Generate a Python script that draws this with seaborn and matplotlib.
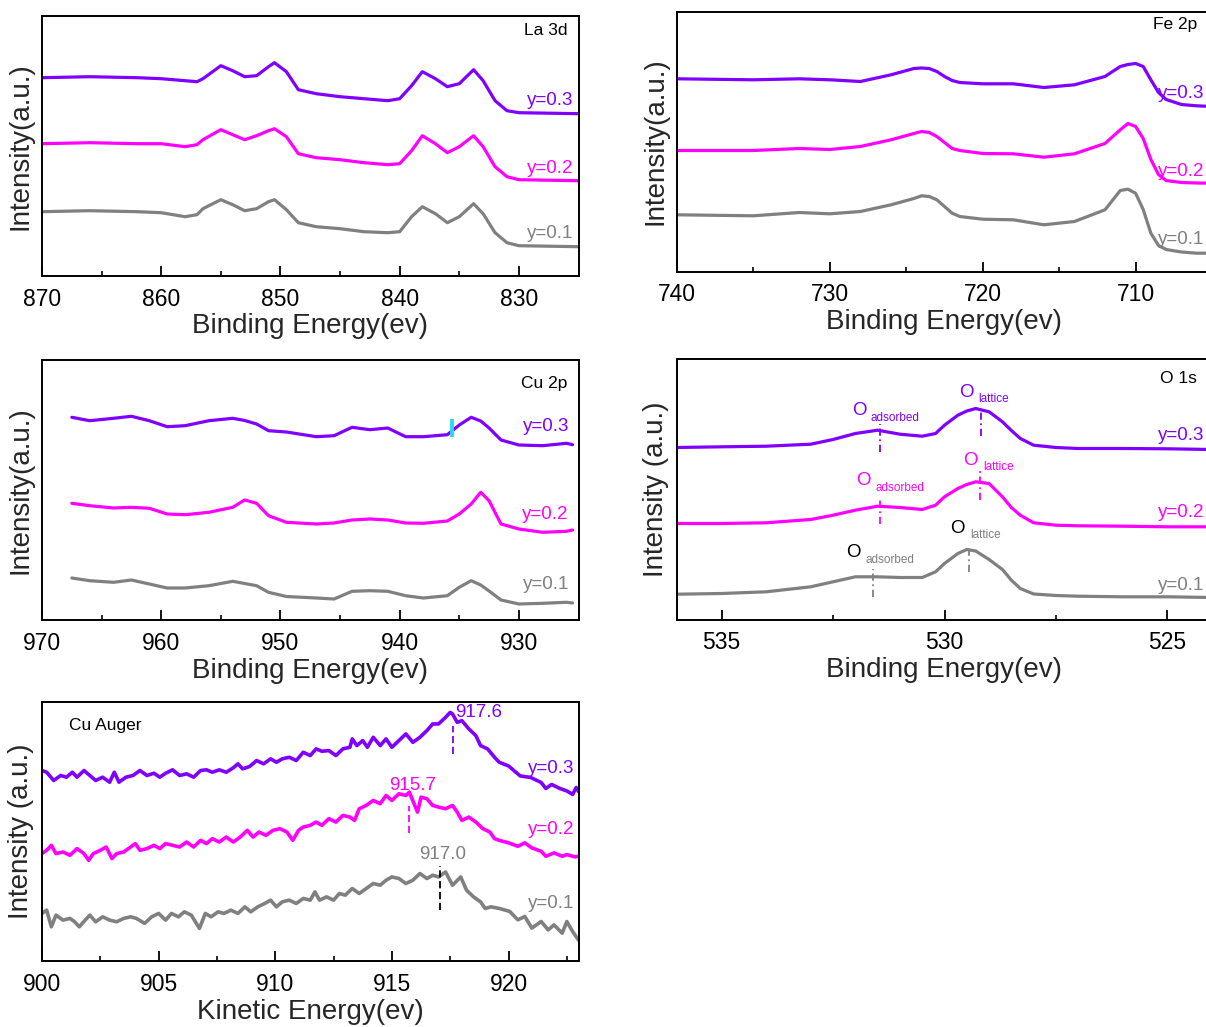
import numpy as np
import pandas as pd
import matplotlib
matplotlib.use("Agg")
import matplotlib.pyplot as plt
import seaborn as sns
from matplotlib.ticker import MultipleLocator

# ---------------- data (intensity in arbitrary units) ----------------
series_labels = ["y=0.3", "y=0.2", "y=0.1"]

# La 3d
la_x = [870, 866, 862, 860, 858, 857, 856.5, 855, 854, 853, 852, 851, 850.5, 849.5, 848.5, 847, 845, 843,
        841, 840, 839, 838.1, 837, 836, 835, 833.8, 833, 832, 831, 830, 825]
la_y03 = [198, 199, 198, 197, 195, 194, 197, 210, 205, 199, 200, 209, 213, 204, 186, 182, 179, 177,
          175, 177, 190, 204, 197, 189, 192, 206, 195, 175, 165, 163, 162]
la_y02 = [132, 133, 132, 132, 129, 131, 136, 146, 141, 136, 140, 145, 147, 139, 122, 118, 116, 113,
          111, 112, 125, 140, 132, 123, 129, 140, 129, 109, 99, 96, 95]
la_y01 = [64, 65, 64, 63, 59, 61, 67, 76, 71, 65, 67, 74, 76, 66, 53, 49, 47, 44,
          43, 44, 59, 69, 62, 53, 59, 72, 62, 43, 33, 30, 29]

# Fe 2p
fe_x = [740, 735, 732, 730, 728, 726, 724.5, 724, 723.5, 723, 722.5, 722, 721.5, 720, 718, 716, 714, 712,
        711, 710.5, 710, 709.5, 709, 708.5, 708, 707, 706, 705]
fe_y03 = [192.7, 191.7, 192.7, 191.7, 190, 196.7, 203, 203.5, 203, 200, 195, 191, 189, 187.7, 187.7, 184, 186.7, 195,
          205, 207, 208, 205, 191.7, 179, 172, 167, 165.7, 165]
fe_y02 = [121, 121, 123, 122, 125, 131.7, 138, 140, 139, 135, 129, 123, 121, 118, 117.7, 114.3, 117.7, 128,
          141.7, 148, 145, 133, 112, 97, 91, 89, 88.5, 88.3]
fe_y01 = [56.7, 55.7, 59, 57.7, 60, 66.7, 73, 75.7, 75, 71.7, 65, 58.3, 55, 52.3, 51.7, 46.7, 50, 61.7,
          81, 82.3, 78.3, 62, 38.3, 26, 22, 19.5, 18.3, 18.3]

# Cu 2p
cu_x = [967.5, 966, 964, 962.5, 961, 959.5, 958, 956, 954, 953, 952, 951, 949.5, 947, 945.5, 944, 942.5, 941,
        939.5, 938, 936, 935, 934, 933.2, 932.5, 931.5, 930, 928, 926, 925.5]
cu_y03 = [202.7, 199.3, 201.7, 203.7, 199.3, 193.3, 194.3, 199.3, 201.7, 199.5, 196, 189.3, 188, 183.3, 184.3, 192.7, 190.3, 192,
          183.3, 183.3, 185.3, 195, 202.7, 199, 192, 180, 175, 174.3, 176.7, 175.3]
cu_y02 = [116.7, 114.3, 112, 112.7, 111.7, 106, 105.3, 107.7, 112.7, 120, 116.7, 104.3, 97.7, 96, 97, 100, 101, 100,
          97, 96.7, 99, 106, 116, 127.7, 119.3, 96, 91, 87.7, 88.7, 90]
cu_y01 = [42, 39.3, 37.7, 40, 36, 32, 32, 34.3, 38.7, 36.5, 34.3, 27.7, 23.5, 22, 21, 28.7, 29.3, 28.7,
          24.3, 22, 24.3, 32.7, 39.3, 35, 29, 20, 16, 16.7, 17.7, 17]

# O 1s
o_x = [536, 535, 534, 533, 532.5, 532, 531.5, 531, 530.5, 530.2, 530, 529.7, 529.5, 529.3, 529, 528.7, 528.5,
       528.3, 528, 527.5, 527, 526, 525, 524]
o_y03 = [172, 172.7, 173.3, 175.3, 180, 186, 189.3, 185.3, 183.3, 186, 194.3, 204.3, 208.5, 211, 207.7, 197.7, 189,
         181, 174.3, 172, 171, 171, 170.7, 170]
o_y02 = [96, 96, 96.7, 100, 104.3, 109.3, 113.3, 112, 110, 114.3, 122.7, 131, 135, 137.7, 136, 122.7, 112,
         104.3, 96.7, 94.3, 93.7, 93.3, 92.7, 92.7]
o_y01 = [25.3, 26, 27.7, 32.7, 37.7, 42.7, 42.7, 42, 42, 47.7, 56, 66, 70, 68.5, 60, 50, 39.3,
         31, 25.5, 24, 23.3, 22.7, 22.7, 22]

# Cu Auger
au_x03 = [900.0, 900.2, 900.5, 900.8, 901.05, 901.3, 901.5, 901.8, 902.05, 902.3, 902.6, 902.9, 903.1, 903.3,
          903.6, 903.9, 904.2, 904.5, 904.8, 905.05, 905.3, 905.6, 905.9, 906.2, 906.5, 906.8, 907.05, 907.3,
          907.6, 907.9, 908.2, 908.4, 908.6, 908.9, 909.2, 909.5, 909.8, 910.05, 910.3, 910.6, 910.9, 911.2,
          911.5, 911.75, 912.0, 912.3, 912.6, 912.9, 913.2, 913.3, 913.5, 913.75, 913.95, 914.2, 914.5, 914.75,
          915.0, 915.3, 915.6, 915.9, 916.2, 916.5, 916.75, 917.0, 917.3, 917.5, 917.6, 917.8, 918.0, 918.3,
          918.6, 918.8, 919.1, 919.4, 919.6, 920.0, 920.5, 920.95, 921.4, 921.6, 921.85, 922.2, 922.5, 922.75,
          922.9, 923.0]
au_y03 = [191, 189.3, 181, 186, 184.3, 189.3, 184.3, 191, 186, 181, 184.3, 179.3, 189.3, 179.3,
          184.3, 186, 191, 186, 188.3, 184.3, 188.3, 191.7, 186, 187.7, 184.3, 191, 191.7, 189.3,
          191.7, 189.3, 193.7, 197.7, 192.7, 195, 201, 197.7, 202.7, 199.3, 202.7, 204.3, 201, 209.3,
          206, 212.7, 210.3, 211, 206, 212.7, 214.3, 222.7, 216, 221, 214.3, 224.3, 216, 222.7,
          214.3, 221, 227.7, 219.3, 224.3, 231, 237.7, 237.7, 244.3, 249.3, 247.7, 239.3, 241, 232.7,
          226, 216, 212.7, 204.3, 199.3, 195.6, 185.6, 184, 179, 173, 177, 173, 170.5, 167,
          174, 170]
au_x02 = [900.0, 900.2, 900.4, 900.6, 900.9, 901.2, 901.5, 901.8, 902.0, 902.2, 902.5, 902.75, 903.0, 903.2,
          903.5, 903.8, 904.0, 904.2, 904.5, 904.8, 905.05, 905.3, 905.6, 905.9, 906.2, 906.5, 906.8, 907.05,
          907.3, 907.6, 907.9, 908.2, 908.5, 908.8, 909.05, 909.3, 909.6, 909.9, 910.2, 910.5, 910.75, 911.0,
          911.2, 911.5, 911.75, 912.0, 912.3, 912.6, 912.9, 913.2, 913.4, 913.6, 913.9, 914.2, 914.5, 914.75,
          915.0, 915.3, 915.6, 915.75, 915.95, 916.1, 916.25, 916.5, 916.75, 917.0, 917.3, 917.6, 917.8, 918.0,
          918.3, 918.6, 918.9, 919.2, 919.4, 919.6, 920.0, 920.4, 920.7, 921.0, 921.4, 921.6, 921.95, 922.3,
          922.5, 922.85, 923.0]
au_y02 = [107.7, 111, 116, 107.7, 109.3, 106, 112.7, 107.7, 101, 107.7, 111, 114.3, 102.7, 107.7,
          109.3, 114.3, 117.7, 111, 112.7, 116, 112.7, 117.7, 116, 114.3, 119.3, 114.3, 121, 117.7,
          122.7, 119.3, 124.3, 119.3, 124.3, 131, 124.3, 129.3, 126, 131, 132.7, 129.3, 121, 131,
          134.3, 136, 139.3, 136, 142.7, 139.3, 146, 144.3, 141, 152.7, 156, 161, 157.7, 166,
          161, 167.7, 166, 169.3, 157.7, 149.3, 164.3, 162.7, 156, 154.3, 152.7, 156, 149.3, 141,
          144.3, 139.3, 132.7, 129.3, 122.7, 121, 118.5, 115, 118.5, 113.4, 110, 105, 108.4, 105,
          106.7, 104.4, 105]
au_x01 = [900.0, 900.2, 900.4, 900.6, 900.9, 901.2, 901.4, 901.6, 901.85, 902.05, 902.3, 902.6, 902.9, 903.2,
          903.5, 903.8, 904.05, 904.4, 904.7, 905.0, 905.3, 905.55, 905.85, 906.1, 906.4, 906.75, 907.0, 907.25,
          907.55, 907.8, 908.1, 908.4, 908.7, 908.95, 909.25, 909.55, 909.8, 910.05, 910.3, 910.6, 910.9, 911.2,
          911.5, 911.7, 911.9, 912.2, 912.5, 912.75, 913.0, 913.3, 913.6, 913.9, 914.2, 914.5, 914.75, 915.0,
          915.3, 915.6, 915.9, 916.2, 916.5, 916.75, 917.0, 917.3, 917.6, 917.95, 918.2, 918.5, 918.8, 919.0,
          919.25, 919.6, 920.05, 920.4, 920.7, 921.0, 921.4, 921.7, 921.95, 922.3, 922.5, 922.75, 923.0]
au_y01 = [47.7, 51, 34.3, 46, 41, 42.7, 39.3, 34.3, 41, 46, 39.3, 44.3, 41, 39.3,
          42.7, 44.3, 42.7, 37.7, 44.3, 47.7, 41, 47.7, 44.3, 49.3, 46, 32.7, 47.7, 44.3,
          49.3, 47.7, 51, 47.7, 54.3, 49.3, 54.3, 57.7, 61, 54.3, 59.3, 61, 57.7, 62.7,
          61, 69.3, 61, 64.3, 61, 67.7, 66, 72.7, 67.7, 72.7, 77.7, 76, 81, 84.3,
          82.7, 77.7, 81, 87.7, 82.7, 86, 84.3, 89.3, 76, 84.3, 71, 64.3, 59.3, 52.7,
          54.3, 52.7, 49.7, 41.3, 44.6, 33, 39.6, 31.2, 36.2, 27.9, 39.6, 29.5, 21]

# label heights of the "y=" tags
la_tag_y = [175.5, 107.3, 42.5]
fe_tag_y = [178, 100, 32.5]
cu_tag_y = [193.5, 105.5, 35.5]
o_tag_y = [184.3, 106.7, 34.3]
au_tag_y = [193.3, 132, 58]

# peak markers
au_peaks = [917.6, 915.7, 917.0]
au_peak_text = ["917.6", "915.7", "917.0"]

# ---------------- style ----------------
sns.set_theme(style="ticks")
plt.rcParams['font.family'] = ['Liberation Sans', 'DejaVu Sans']
plt.rcParams['axes.linewidth'] = 1.4
plt.rcParams['axes.edgecolor'] = 'black'
plt.rcParams['xtick.color'] = 'black'
plt.rcParams['text.color'] = 'black'

PURPLE = '#7F00FF'
MAGENTA = '#FF00FF'
GRAY = '#808080'
colors = [PURPLE, MAGENTA, GRAY]

W, H = 1206, 1027
fig = plt.figure(figsize=(W / 100, H / 100), dpi=100)


def make_ax(left_px, top_px, width_px, height_px):
    return fig.add_axes([left_px / W, 1 - (top_px + height_px) / H, width_px / W, height_px / H])


def style_ax(ax, xlim, major, minor, xlabel, ylabel):
    ax.set_xlim(*xlim)
    ax.set_ylim(0, 260)
    ax.set_yticks([])
    ax.xaxis.set_major_locator(MultipleLocator(major))
    ax.xaxis.set_minor_locator(MultipleLocator(minor))
    ax.tick_params(axis='x', which='major', direction='in', length=7, width=1.3,
                   labelsize=16.5, pad=8.5, top=False)
    ax.tick_params(axis='x', which='minor', direction='in', length=3.5, width=1.2, top=False)
    ax.set_xlabel(xlabel, fontsize=20, labelpad=2)
    ax.set_ylabel(ylabel, fontsize=20, labelpad=6)
    for s in ax.spines.values():
        s.set_visible(True)
        s.set_linewidth(1.4)
        s.set_color('black')
    ax.grid(False)


def draw(ax, xs, ys, color, lw=2.3):
    df = pd.DataFrame({"x": xs, "y": ys})
    sns.lineplot(data=df, x="x", y="y", ax=ax, color=color, linewidth=lw,
                 estimator=None, sort=False, legend=False)


def tags(ax, ys, xfrac):
    for lab, yv, c in zip(series_labels, ys, colors):
        ax.text(xfrac, yv, lab, color=c, fontsize=13.5, ha='right', va='center',
                transform=ax.get_yaxis_transform())


def title(ax, text, xfrac, yv, ha='right'):
    ax.text(xfrac, yv, text, color='black', fontsize=12.5, ha=ha, va='center',
            transform=ax.get_yaxis_transform())


# ---------------- La 3d ----------------
ax1 = make_ax(42, 15.7, 536.5, 260)
for ys, c in zip([la_y03, la_y02, la_y01], colors):
    draw(ax1, la_x, ys, c)
style_ax(ax1, (870, 825), 10, 5, "Binding Energy(ev)", "Intensity(a.u.)")
tags(ax1, la_tag_y, 0.99)
title(ax1, "La 3d", 0.98, 245)

# ---------------- Fe 2p ----------------
ax2 = make_ax(677, 11.5, 535, 260)
for ys, c in zip([fe_y03, fe_y02, fe_y01], colors):
    draw(ax2, fe_x, ys, c)
style_ax(ax2, (740, 705), 10, 5, "Binding Energy(ev)", "Intensity(a.u.)")
tags(ax2, fe_tag_y, 0.986)
title(ax2, "Fe 2p", 0.972, 246.5)

# ---------------- Cu 2p ----------------
ax3 = make_ax(42, 360, 536.5, 260)
for ys, c in zip([cu_y03, cu_y02, cu_y01], colors):
    draw(ax3, cu_x, ys, c)
ax3.plot([935.6, 935.6], [183, 201], color='#2ED8EC', lw=2.8, solid_capstyle='butt')
style_ax(ax3, (970, 925), 10, 5, "Binding Energy(ev)", "Intensity(a.u.)")
tags(ax3, cu_tag_y, 0.982)
title(ax3, "Cu 2p", 0.98, 236)

# ---------------- O 1s ----------------
ax4 = make_ax(677, 359.5, 535, 260)
for ys, c in zip([o_y03, o_y02, o_y01], colors):
    draw(ax4, o_x, ys, c)
style_ax(ax4, (536, 524), 5, 2.5, "Binding Energy(ev)", "Intensity (a.u.)")
tags(ax4, o_tag_y, 0.986)
title(ax4, "O 1s", 0.972, 241)

o_marks = [
    # (O x, O y, sub x, sub y, sub text, O color, sub color, line x, y0, y1, line color)
    (531.91, 209.3, 531.65, 201.7, "adsorbed", PURPLE, PURPLE, 531.44, 167.7, 195.3, PURPLE),
    (529.52, 227.2, 529.24, 220.3, "lattice", PURPLE, PURPLE, 529.19, 183.3, 209.3, PURPLE),
    (531.83, 138.7, 531.54, 131.0, "adsorbed", MAGENTA, MAGENTA, 531.44, 95.3, 122.7, MAGENTA),
    (529.41, 159.3, 529.14, 152.0, "lattice", MAGENTA, MAGENTA, 529.20, 120.0, 148.7, MAGENTA),
    (532.04, 67.0, 531.77, 59.3, "adsorbed", 'black', GRAY, 531.60, 22.7, 51.0, GRAY),
    (529.71, 91.0, 529.42, 84.3, "lattice", 'black', GRAY, 529.45, 47.7, 72.7, GRAY),
]
for ox, oy, sx, sy, st, oc, sc, lx, y0, y1, lc in o_marks:
    ax4.text(ox, oy, "O", color=oc, fontsize=13.5, ha='center', va='center')
    ax4.text(sx, sy, st, color=sc, fontsize=8.5, ha='left', va='center')
    ax4.plot([lx, lx], [y0, y1], color=lc, lw=1.3, ls=(0, (4, 2, 1, 2)))

# ---------------- Cu Auger ----------------
ax5 = make_ax(42, 701.7, 536.5, 259.3)
draw(ax5, au_x03, au_y03, PURPLE, 2.6)
draw(ax5, au_x02, au_y02, MAGENTA, 2.6)
draw(ax5, au_x01, au_y01, GRAY, 2.6)
style_ax(ax5, (900, 923), 5, 2.5, "Kinetic Energy(ev)", "Intensity (a.u.)")
tags(ax5, au_tag_y, 0.993)
title(ax5, "Cu Auger", 0.05, 236, ha='left')

ax5.plot([au_peaks[0]] * 2, [207.5, 236], color=PURPLE, lw=1.3, ls=(0, (4, 2)))
ax5.text(917.72, 249, au_peak_text[0], color=PURPLE, fontsize=13.5, ha='left', va='center')
ax5.plot([915.75] * 2, [128.5, 155], color=MAGENTA, lw=1.3, ls=(0, (4, 2)))
ax5.text(915.9, 175.5, au_peak_text[1], color=MAGENTA, fontsize=13.5, ha='center', va='center')
ax5.plot([917.05] * 2, [51.3, 95], color='black', lw=1.3, ls=(0, (4, 2)))
ax5.text(917.17, 98.3, au_peak_text[2], color=GRAY, fontsize=13.5, ha='center', va='bottom')

fig.savefig("out.png", dpi=100, facecolor='white')
